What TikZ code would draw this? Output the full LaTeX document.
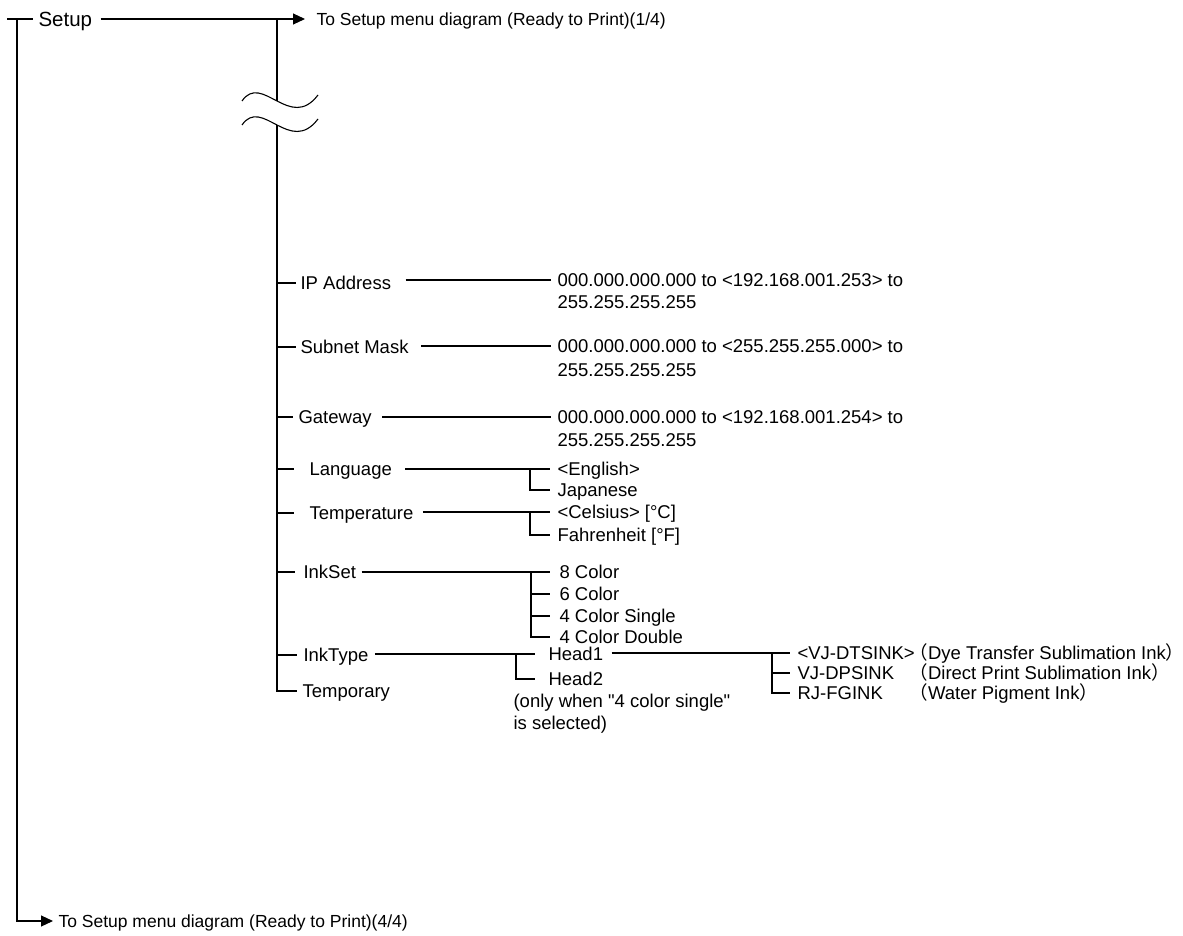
\documentclass[tikz,border=0pt]{standalone}
\usepackage{fontspec}
\setmainfont{Liberation Sans}
\newfontfamily\mainf{Liberation Sans}
\newfontfamily\cjkfont{Noto Sans CJK JP}
\usetikzlibrary{arrows.meta}
\begin{document}
\begin{tikzpicture}[x=1pt,y=-1pt, line width=1.1pt,
  lbl/.style={font=\mainf\fontsize{18.5}{22}\selectfont, inner sep=0pt, anchor=west, text height=13.3pt, text depth=0pt},
  lnk/.style={font=\mainf\fontsize{17.5}{21}\selectfont, inner sep=0pt, anchor=west, text height=12.6pt, text depth=0pt},
  big/.style={font=\mainf\fontsize{20.5}{24}\selectfont, inner sep=0pt, anchor=west, text height=14.8pt, text depth=0pt},
  arr/.style={-{Triangle[length=12pt,width=11pt]}},
]
\useasboundingbox (0,0) rectangle (1183,936);

% top and bottom links
\coordinate (tl) at (7,19);
\coordinate (lt) at (17,19);
\coordinate (rt) at (277,19);
\node[big] (setup) at (38,19) {Setup};
\node[lnk] (to1) at (316,19) {To Setup menu diagram (Ready to Print)(1/4)};
\node[lnk] (to4) at (58,921) {To Setup menu diagram (Ready to Print)(4/4)};
\draw (tl) -- ([xshift=-5pt]setup.west);
\draw[arr] ([xshift=8pt]setup.east) -- ([xshift=-11pt]to1.west);
\draw[arr] (lt) |- ([xshift=-5pt]to4.west);

% trunk with break
\coordinate (b1) at (277,101);
\coordinate (b2) at (277,125);
\draw (rt) -- (b1);
\draw (242,101) .. controls (262,72) and (290,132) .. (318,95);
\draw (242,125) .. controls (262,96) and (290,156) .. (318,119);

% IP Address
\node[lbl] (ip) at (300,283) {IP Address};
\node[lbl] (ipv) at (557,280) {000.000.000.000 to <192.168.001.253> to};
\node[lbl] (ipv2) at (557,302) {255.255.255.255};
\draw (rt |- ip.west) -- ([xshift=-4pt]ip.west);
\draw ([xshift=14pt]ip.east |- ipv.west) -- ([xshift=-6pt]ipv.west);

% Subnet Mask
\node[lbl] (sm) at (300,347) {Subnet Mask};
\node[lbl] (smv) at (557,346) {000.000.000.000 to <255.255.255.000> to};
\node[lbl] (smv2) at (557,370) {255.255.255.255};
\draw (rt |- sm.west) -- ([xshift=-4pt]sm.west);
\draw ([xshift=12pt]sm.east |- smv.west) -- ([xshift=-6pt]smv.west);

% Gateway
\node[lbl] (gw) at (298,417) {Gateway};
\node[lbl] (gwv) at (557,417) {000.000.000.000 to <192.168.001.254> to};
\node[lbl] (gwv2) at (557,440) {255.255.255.255};
\draw (rt |- gw.west) -- ([xshift=-5pt]gw.west);
\draw ([xshift=10pt]gw.east |- gwv.west) -- ([xshift=-6pt]gwv.west);

% Language
\node[lbl] (lang) at (309,469) {Language};
\node[lbl] (eng) at (557,469) {<English>};
\node[lbl] (jap) at (557,490) {Japanese};
\draw (rt |- lang.west) -- ([xshift=-15pt]lang.west);
\draw ([xshift=13pt]lang.east |- eng.west) -- ([xshift=-7pt]eng.west);
\draw ([xshift=-27pt]eng.west) |- ([xshift=-7pt]jap.west);

% Temperature
\node[lbl] (temp) at (309,513) {Temperature};
\node[lbl] (cel) at (557,512) {<Celsius> [\textdegree C]};
\node[lbl] (fah) at (557,535) {Fahrenheit [\textdegree F]};
\draw (rt |- temp.west) -- ([xshift=-15pt]temp.west);
\draw ([xshift=9pt]temp.east |- cel.west) -- ([xshift=-7pt]cel.west);
\draw ([xshift=-27pt]cel.west) |- ([xshift=-7pt]fah.west);

% InkSet
\node[lbl] (inkset) at (303,572) {InkSet};
\node[lbl] (c8) at (559,572) {8 Color};
\node[lbl] (c6) at (559,594) {6 Color};
\node[lbl] (c4s) at (559,616) {4 Color Single};
\node[lbl] (c4d) at (559,637) {4 Color Double};
\draw (rt |- inkset.west) -- ([xshift=-8pt]inkset.west);
\draw ([xshift=5pt]inkset.east |- c8.west) -- ([xshift=-9pt]c8.west);
\draw ([xshift=-28pt]c8.west) |- ([xshift=-9pt]c4d.west);
\draw ([xshift=-28pt]c6.west) -- ([xshift=-9pt]c6.west);
\draw ([xshift=-28pt]c4s.west) -- ([xshift=-9pt]c4s.west);

% InkType
\node[lbl] (inktype) at (303,655) {InkType};
\node[lbl] (h1) at (548,654) {Head1};
\node[lbl] (h2) at (548,679) {Head2};
\node[lbl] (note1) at (513,701) {(only when "4 color single"};
\node[lbl] (note2) at (513,723) {is selected)};
\draw (rt |- inktype.west) -- ([xshift=-6pt]inktype.west);
\draw ([xshift=6pt]inktype.east |- h1.west) -- ([xshift=-13pt]h1.west);
\draw ([xshift=-32pt]h1.west) |- ([xshift=-13pt]h2.west);

% Ink names
\node[lbl] (dts) at (797,653) {<VJ-DTSINK>};
\node[lbl] (dps) at (797,673) {VJ-DPSINK};
\node[lbl] (fg) at (797,693) {RJ-FGINK};
\node[lbl] (dtsp) at (909,653) {{\cjkfont （}Dye Transfer Sublimation Ink\makebox[0.4em][l]{\cjkfont ）}};
\node[lbl] (dpsp) at (909,673) {{\cjkfont （}Direct Print Sublimation Ink\makebox[0.4em][l]{\cjkfont ）}};
\node[lbl] (fgp) at (909,693) {{\cjkfont （}Water Pigment Ink\makebox[0.4em][l]{\cjkfont ）}};
\draw ([xshift=8pt]h1.east |- dts.west) -- ([xshift=-7pt]dts.west);
\draw ([xshift=-25pt]dts.west) |- ([xshift=-7pt]fg.west);
\draw ([xshift=-25pt]dps.west) -- ([xshift=-7pt]dps.west);

% Temporary
\node[lbl] (tmp) at (302,691) {Temporary};
\draw (b2) |- ([xshift=-5pt]tmp.west);
\end{tikzpicture}
\end{document}
